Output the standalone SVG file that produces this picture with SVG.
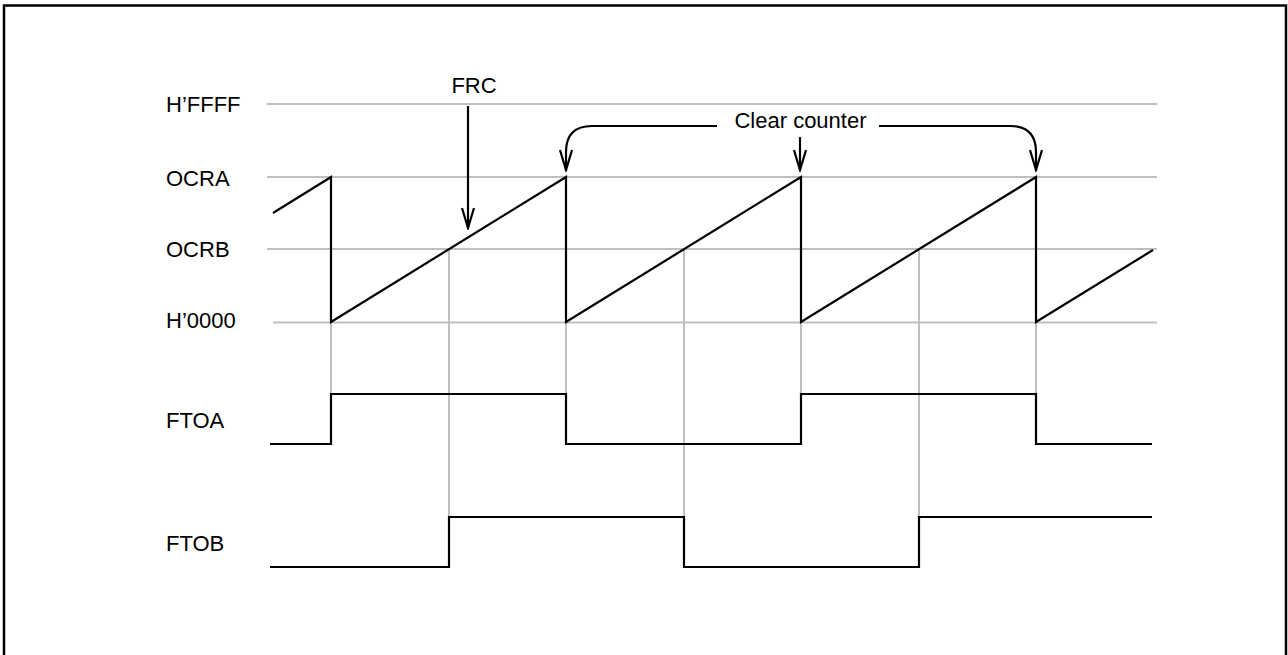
<svg xmlns="http://www.w3.org/2000/svg" width="1288" height="655" viewBox="0 0 1288 655">
<style>
.lbl{font-family:"Liberation Sans",Arial,sans-serif;font-size:22px;fill:#000}
.grid{stroke:#bfbfbf;stroke-width:2;fill:none}
.sig{stroke:#000;stroke-width:2.2;fill:none;stroke-linejoin:miter}
.arr{stroke:#000;stroke-width:2.2;fill:none}
</style>
<defs>
<marker id="vee" viewBox="0 0 24 14" refX="22" refY="7" markerWidth="24" markerHeight="14" markerUnits="userSpaceOnUse" orient="auto">
<path d="M2,1 L22,7 L2,13" fill="none" stroke="#000" stroke-width="2.2"/>
</marker>
</defs>
<rect x="4" y="5.5" width="1282" height="700" fill="#fff" stroke="#000" stroke-width="2.5"/>
<g id="grid">
<line class="grid" x1="267" y1="104" x2="1157" y2="104"/>
<line class="grid" x1="267" y1="177" x2="1157" y2="177"/>
<line class="grid" x1="267" y1="249" x2="1157" y2="249"/>
<line class="grid" x1="273" y1="322.5" x2="1157" y2="322.5"/>
<line class="grid" x1="331" y1="322" x2="331" y2="394"/>
<line class="grid" x1="566" y1="322" x2="566" y2="394"/>
<line class="grid" x1="801" y1="322" x2="801" y2="394"/>
<line class="grid" x1="1036" y1="322" x2="1036" y2="394"/>
<line class="grid" x1="449" y1="249" x2="449" y2="517"/>
<line class="grid" x1="684" y1="249" x2="684" y2="517"/>
<line class="grid" x1="919" y1="249" x2="919" y2="517"/>
</g>
<g id="labels">
<text class="lbl" x="166" y="112">H’FFFF</text>
<text class="lbl" x="166" y="186">OCRA</text>
<text class="lbl" x="166" y="257">OCRB</text>
<text class="lbl" x="166" y="328">H’0000</text>
<text class="lbl" x="166" y="428">FTOA</text>
<text class="lbl" x="166" y="551">FTOB</text>
</g>
<g id="frc">
<path class="sig" d="M273,213 L331,177 L331,322 L566,177 L566,322 L801,177 L801,322 L1036,177 L1036,322 L1153,250"/>
</g>
<g id="ftoa">
<path class="sig" d="M270,444 L331,444 L331,394 L566,394 L566,444 L801,444 L801,394 L1036,394 L1036,444 L1152,444"/>
</g>
<g id="ftob">
<path class="sig" d="M270,567 L449,567 L449,517 L684,517 L684,567 L919,567 L919,517 L1152,517"/>
</g>
<g id="connectors">
<text class="lbl" x="474" y="93" text-anchor="middle">FRC</text>
<line class="arr" x1="468" y1="106" x2="468" y2="228" marker-end="url(#vee)"/>
<text class="lbl" x="800.5" y="128" text-anchor="middle">Clear counter</text>
<path class="arr" d="M717,126 L592,126 Q566,126 566,152 L566,170" marker-end="url(#vee)"/>
<line class="arr" x1="800" y1="137" x2="800" y2="170" marker-end="url(#vee)"/>
<path class="arr" d="M879,126 L1010,126 Q1036,126 1036,152 L1036,170" marker-end="url(#vee)"/>
</g>
</svg>
